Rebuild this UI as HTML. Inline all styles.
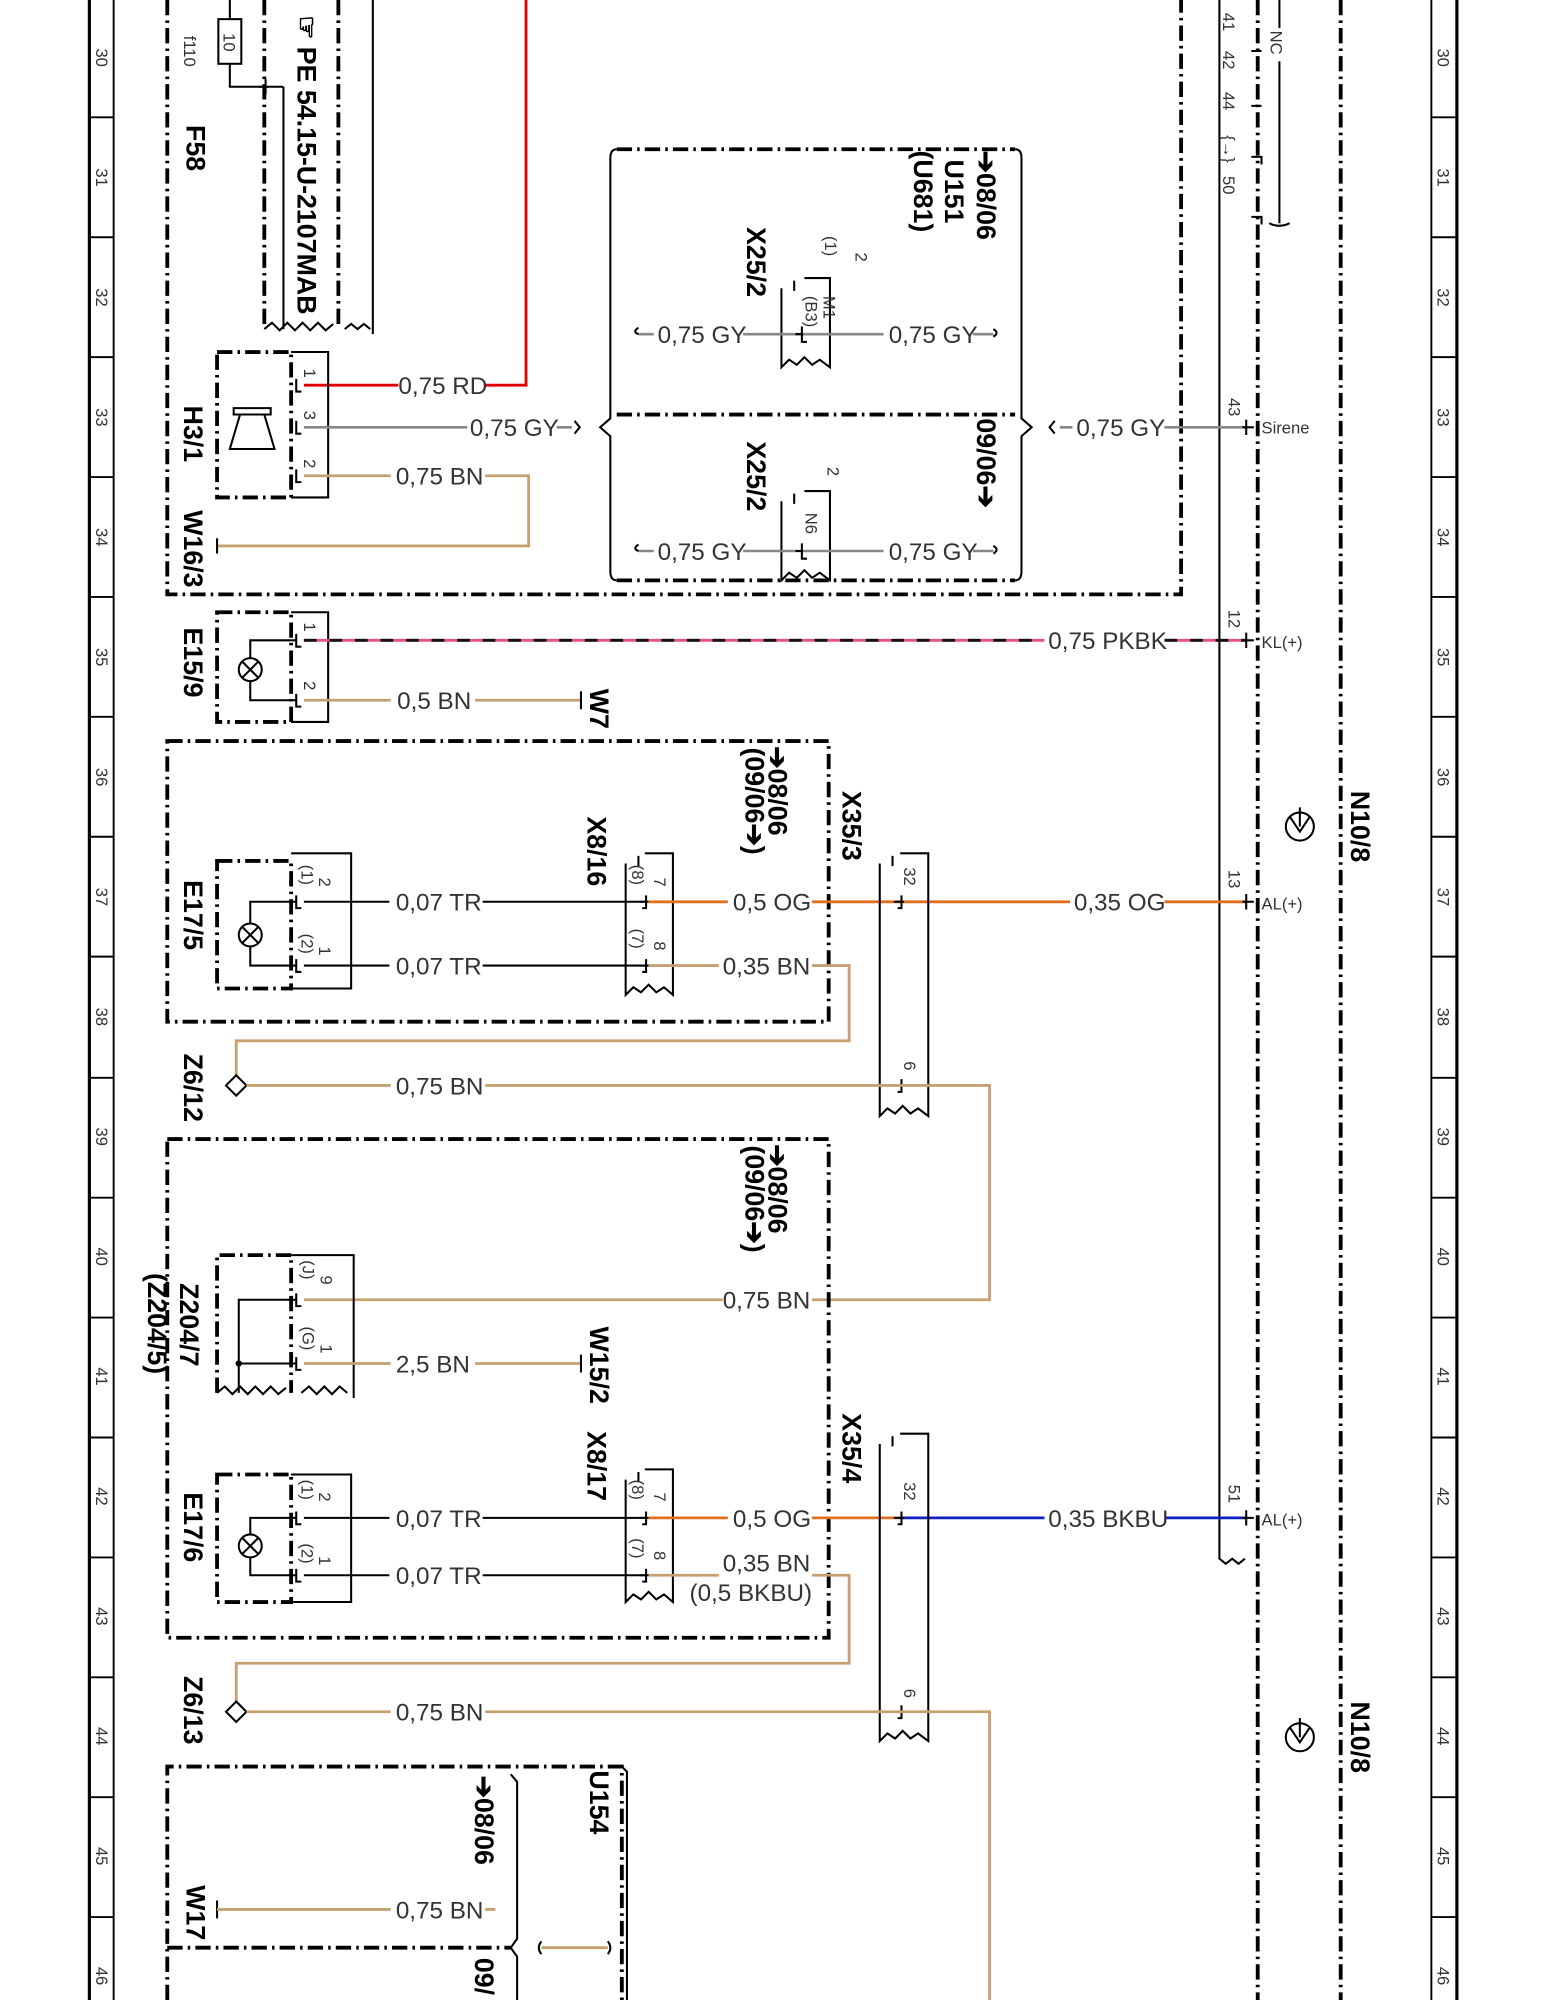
<!DOCTYPE html>
<html><head><meta charset="utf-8"><style>
html,body{margin:0;padding:0;background:#fff}
svg{display:block}
text{font-family:"Liberation Sans",sans-serif}
.w{font-size:19px;fill:#333}
.b{font-size:21px;font-weight:bold;fill:#000}
.s{font-size:13px;fill:#333}
.dd{fill:none;stroke:#000;stroke-width:3;stroke-dasharray:12 4 2 4}
.ln{fill:none;stroke:#000;stroke-width:1.6}
.gy{fill:none;stroke:#888;stroke-width:2}
.bn{fill:none;stroke:#c8a070;stroke-width:2.2}
.og{fill:none;stroke:#e07020;stroke-width:2.2}
.rd{fill:none;stroke:#e00000;stroke-width:2.2}
</style></head><body>
<svg width="1545" height="2000" viewBox="0 0 1210 1568" preserveAspectRatio="none" xmlns="http://www.w3.org/2000/svg">
<rect width="1210" height="1568" fill="#fff"/>
<!-- rulers -->
<g stroke="#000">
<line x1="70" y1="0" x2="70" y2="1568" stroke-width="2.5"/>
<line x1="89" y1="0" x2="89" y2="1568" stroke-width="1.5"/>
<line x1="1121" y1="0" x2="1121" y2="1568" stroke-width="1.5"/>
<line x1="1141" y1="0" x2="1141" y2="1568" stroke-width="2.5"/>
</g>
<g stroke="#000" stroke-width="1.5">
<line x1="70" y1="92" x2="89" y2="92"/><line x1="70" y1="186" x2="89" y2="186"/><line x1="70" y1="280" x2="89" y2="280"/><line x1="70" y1="374" x2="89" y2="374"/><line x1="70" y1="468" x2="89" y2="468"/><line x1="70" y1="562" x2="89" y2="562"/><line x1="70" y1="656" x2="89" y2="656"/><line x1="70" y1="750" x2="89" y2="750"/><line x1="70" y1="845" x2="89" y2="845"/><line x1="70" y1="939" x2="89" y2="939"/><line x1="70" y1="1033" x2="89" y2="1033"/><line x1="70" y1="1127" x2="89" y2="1127"/><line x1="70" y1="1221" x2="89" y2="1221"/><line x1="70" y1="1315" x2="89" y2="1315"/><line x1="70" y1="1409" x2="89" y2="1409"/><line x1="70" y1="1503" x2="89" y2="1503"/>
<line x1="1121" y1="92" x2="1141" y2="92"/><line x1="1121" y1="186" x2="1141" y2="186"/><line x1="1121" y1="280" x2="1141" y2="280"/><line x1="1121" y1="374" x2="1141" y2="374"/><line x1="1121" y1="468" x2="1141" y2="468"/><line x1="1121" y1="562" x2="1141" y2="562"/><line x1="1121" y1="656" x2="1141" y2="656"/><line x1="1121" y1="750" x2="1141" y2="750"/><line x1="1121" y1="845" x2="1141" y2="845"/><line x1="1121" y1="939" x2="1141" y2="939"/><line x1="1121" y1="1033" x2="1141" y2="1033"/><line x1="1121" y1="1127" x2="1141" y2="1127"/><line x1="1121" y1="1221" x2="1141" y2="1221"/><line x1="1121" y1="1315" x2="1141" y2="1315"/><line x1="1121" y1="1409" x2="1141" y2="1409"/><line x1="1121" y1="1503" x2="1141" y2="1503"/>
</g>
<g class="s" font-size="13">
<text transform="translate(75,38) rotate(90)">30</text><text transform="translate(1126,38) rotate(90)">30</text>
<text transform="translate(75,132) rotate(90)">31</text><text transform="translate(1126,132) rotate(90)">31</text>
<text transform="translate(75,226) rotate(90)">32</text><text transform="translate(1126,226) rotate(90)">32</text>
<text transform="translate(75,320) rotate(90)">33</text><text transform="translate(1126,320) rotate(90)">33</text>
<text transform="translate(75,414) rotate(90)">34</text><text transform="translate(1126,414) rotate(90)">34</text>
<text transform="translate(75,508) rotate(90)">35</text><text transform="translate(1126,508) rotate(90)">35</text>
<text transform="translate(75,602) rotate(90)">36</text><text transform="translate(1126,602) rotate(90)">36</text>
<text transform="translate(75,696) rotate(90)">37</text><text transform="translate(1126,696) rotate(90)">37</text>
<text transform="translate(75,790) rotate(90)">38</text><text transform="translate(1126,790) rotate(90)">38</text>
<text transform="translate(75,884) rotate(90)">39</text><text transform="translate(1126,884) rotate(90)">39</text>
<text transform="translate(75,978) rotate(90)">40</text><text transform="translate(1126,978) rotate(90)">40</text>
<text transform="translate(75,1072) rotate(90)">41</text><text transform="translate(1126,1072) rotate(90)">41</text>
<text transform="translate(75,1166) rotate(90)">42</text><text transform="translate(1126,1166) rotate(90)">42</text>
<text transform="translate(75,1260) rotate(90)">43</text><text transform="translate(1126,1260) rotate(90)">43</text>
<text transform="translate(75,1354) rotate(90)">44</text><text transform="translate(1126,1354) rotate(90)">44</text>
<text transform="translate(75,1448) rotate(90)">45</text><text transform="translate(1126,1448) rotate(90)">45</text>
<text transform="translate(75,1542) rotate(90)">46</text><text transform="translate(1126,1542) rotate(90)">46</text>
</g>

<!-- big frames -->
<path class="dd" d="M131 0 V466 H925 V0"/>
<line class="dd" x1="985" y1="0" x2="985" y2="1568"/>
<line class="dd" x1="1050" y1="0" x2="1050" y2="1568"/>
<path class="ln" d="M955 0 V1222 l5 4 5 -4 5 4 5 -4"/>
<path class="ln" d="M1002 0 V22 M1002 48 V175 M994 175 q8 4 16 0"/>
<text class="s" transform="translate(995,24) rotate(90)" font-size="12">NC</text>
<g class="s" font-size="17">
<text transform="translate(958,10) rotate(90)">41</text>
<text transform="translate(958,40) rotate(90)">42</text>
<text transform="translate(958,72) rotate(90)">44</text>
<text transform="translate(958,106) rotate(90)">{→}</text>
<text transform="translate(958,138) rotate(90)">50</text>
</g>
<path class="ln" stroke-width="3" d="M980 40 H988 M980 83 H988 M980 123 H988 V129 M980 170 H988 V176"/>

<!-- F58 -->
<path class="ln" d="M180 0 V15 M180 50 V68 H222"/>
<rect x="171" y="15" width="18" height="35" class="ln"/>
<text class="s" transform="translate(175,26) rotate(90)" font-size="10">10</text>
<text class="s" transform="translate(144,28) rotate(90)" font-size="18" fill="#666">f110</text>
<text class="b" transform="translate(146,98) rotate(90)">F58</text>
<path class="dd" d="M207 0 V258 M265 0 V258"/>
<path class="ln" stroke-width="2.5" d="M207 258 l6 -5 6 6 6 -6 6 6 6 -6 6 6 6 -6 6 6 6 -5 M270 258 l5 -4 5 4 5 -4 5 4"/>
<path class="ln" stroke-width="3" d="M203 68 H210 M208 62 V74"/>
<path class="ln" d="M222 68 V258 M292 0 V262"/>
<text class="b" transform="translate(233,12) rotate(90)">☞ PE  54.15-U-2107MAB</text>
<path class="rd" d="M412 0 V302 H380 M312 302 H238"/>
<text class="w" x="312" y="309">0,75 RD</text>

<!-- H3/1 -->
<rect x="170" y="276" width="58" height="114" class="dd"/>
<path class="ln" d="M228 276 H257 V390 H228"/>
<path class="ln" d="M183 320 H212 V325 H183Z M188 325 L180 352 H215 L207 325"/>
<g class="ln" stroke-width="2.5"><path d="M232 297 v10 h4 M232 330 v10 h4 M232 368 v10 h4"/></g>
<text class="s" transform="translate(238,289) rotate(90)">1</text><text class="s" transform="translate(238,322) rotate(90)">3</text><text class="s" transform="translate(238,360) rotate(90)">2</text>
<text class="b" transform="translate(144,318) rotate(90)">H3/1</text>
<text class="b" transform="translate(144,400) rotate(90)">W16/3</text>
<path class="gy" d="M238 335 H366 M436 335 H448"/>
<text class="w" x="368" y="342">0,75 GY</text>
<path class="ln" d="M450 330 l4 5 -4 5"/>
<path class="bn" d="M238 373 H306 M380 373 H414 V428 H170"/>
<text class="w" x="310" y="380">0,75 BN</text>
<path class="ln" stroke-width="3" d="M170 422 V434"/>

<!-- U151 -->
<path class="ln" d="M483 117 Q478 117 478 124 V328 L470 335 L478 342 V448 Q478 455 483 455"/>
<path class="ln" d="M795 117 Q800 117 800 124 V328 L808 335 L800 342 V448 Q800 455 795 455"/>
<path class="dd" stroke-width="2.5" d="M483 117 H795 M483 455 H795 M483 325 H795"/>
<text class="b" transform="translate(765,118) rotate(90)">➔08/06</text>
<text class="b" transform="translate(740,125) rotate(90)">U151</text>
<text class="b" transform="translate(716,118) rotate(90)">(U681)</text>
<text class="b" transform="translate(765,328) rotate(90)">09/06➔</text>
<!-- X25/2 top -->
<path class="ln" d="M612 226 V288 l6 -6 6 4 6 -6 6 6 6 -4 8 6 V218 H630 M622 220 V228"/>
<text class="b" transform="translate(585,178) rotate(90)">X25/2</text>
<text class="s" transform="translate(646,185) rotate(90)" font-size="16">(1)</text>
<text class="s" transform="translate(670,198) rotate(90)" font-size="16">2</text>
<text class="s" transform="translate(631,232) rotate(90)" font-size="13">(B3)</text>
<text class="s" transform="translate(645,232) rotate(90)" font-size="13">M1</text>
<path class="gy" d="M500 262 H512 M582 262 H628 M628 262 H692 M762 262 H778"/>
<path class="ln" stroke-width="2.5" d="M623 262 H629 M628 256 V268 H632"/>
<text class="w" x="515" y="269">0,75 GY</text><text class="w" x="696" y="269">0,75 GY</text>
<path class="ln" d="M500 257 q-5 3 0 5 M778 258 q5 3 0 6"/>
<!-- X25/2 bottom -->
<path class="ln" d="M612 393 V455 l6 -6 6 4 6 -6 6 6 6 -4 8 6 V385 H630 M622 387 V395"/>
<text class="b" transform="translate(585,346) rotate(90)">X25/2</text>
<text class="s" transform="translate(648,366) rotate(90)" font-size="16">2</text>
<text class="s" transform="translate(631,402) rotate(90)" font-size="13">N6</text>
<path class="gy" d="M500 432 H512 M582 432 H692 M762 432 H778"/>
<path class="ln" stroke-width="2.5" d="M623 432 H629 M628 426 V438 H632"/>
<text class="w" x="515" y="439">0,75 GY</text><text class="w" x="696" y="439">0,75 GY</text>
<path class="ln" d="M500 427 q-5 3 0 5 M778 428 q5 3 0 6"/>
<!-- sirene line -->
<path class="gy" d="M830 335 H840 M912 335 H975"/>
<text class="w" x="843" y="342">0,75 GY</text>
<path class="ln" d="M826 330 l-4 5 4 5"/>
<path class="ln" stroke-width="2.5" d="M973 335 H982 M976 329 v12"/>
<text class="s" transform="translate(962,312) rotate(90)" font-size="14">43</text>
<text class="s" x="988" y="340" font-size="14">Sirene</text>

<!-- E15/9 -->
<rect x="170" y="480" width="58" height="86" class="dd"/>
<path class="ln" d="M228 480 H257 V566 H228"/>
<circle cx="196" cy="525" r="9" class="ln" stroke-width="2"/>
<path class="ln" d="M190 519 l12 12 M202 519 l-12 12 M196 516 V502 H232 M196 534 V549 H232"/>
<g class="ln" stroke-width="2.5"><path d="M232 497 v10 h4 M232 544 v10 h4"/></g>
<text class="s" transform="translate(238,488) rotate(90)">1</text><text class="s" transform="translate(238,534) rotate(90)">2</text>
<text class="b" transform="translate(144,492) rotate(90)">E15/9</text>
<path d="M238 502 H818 M912 502 H975" stroke="#e8508a" stroke-width="2.2"/>
<path d="M238 502 H818 M912 502 H975" stroke="#111" stroke-width="2.2" stroke-dasharray="10 10"/>
<text class="w" x="821" y="509">0,75 PKBK</text>
<path class="ln" stroke-width="2.5" d="M973 502 H982 M976 496 v12"/>
<text class="s" transform="translate(962,478) rotate(90)" font-size="14">12</text>
<text class="s" x="988" y="508" font-size="14">KL(+)</text>
<path class="bn" d="M238 549 H306 M372 549 H455"/>
<text class="w" x="311" y="556">0,5 BN</text>
<path class="ln" stroke-width="3" d="M455 542 V556"/>
<text class="b" transform="translate(462,540) rotate(90)">W7</text>

<!-- box 2 -->
<rect x="131" y="581" width="518" height="220" class="dd"/>
<rect x="170" y="675" width="58" height="100" class="dd"/>
<path class="ln" d="M228 669 H275 V775 H228"/>
<circle cx="196" cy="733" r="9" class="ln" stroke-width="2"/>
<path class="ln" d="M190 727 l12 12 M202 727 l-12 12 M196 724 V707 H232 M196 742 V757 H232"/>
<g class="ln" stroke-width="2.5"><path d="M232 702 v10 h4 M232 752 v10 h4"/></g>
<text class="s" transform="translate(236,678) rotate(90)">(1)</text><text class="s" transform="translate(250,688) rotate(90)">2</text>
<text class="s" transform="translate(236,732) rotate(90)">(2)</text><text class="s" transform="translate(250,742) rotate(90)">1</text>
<text class="b" transform="translate(144,690) rotate(90)">E17/5</text>
<path class="ln" d="M238 707 H305 M378 707 H505 M238 757 H305 M378 757 H505"/>
<text class="w" x="310" y="714">0,07 TR</text><text class="w" x="310" y="764">0,07 TR</text>
<path class="ln" d="M490 677 V780 l6 -6 6 4 6 -6 6 6 6 -4 7 6 V669 H505 M500 671 V679"/>
<g class="ln" stroke-width="2.5"><path d="M501 707 H508 M506 702 v10 h-3 M501 757 H508 M506 752 v10 h-3"/></g>
<text class="b" transform="translate(460,640) rotate(90)">X8/16</text>
<text class="s" transform="translate(495,678) rotate(90)">(8)</text><text class="s" transform="translate(512,688) rotate(90)">7</text>
<text class="s" transform="translate(495,728) rotate(90)">(7)</text><text class="s" transform="translate(512,738) rotate(90)">8</text>
<path class="og" d="M508 707 H570 M636 707 H705 M705 707 H838 M912 707 H975"/>
<text class="w" x="574" y="714">0,5 OG</text><text class="w" x="841" y="714">0,35 OG</text>
<path class="bn" d="M508 757 H563 M636 757 H665 V816 H185 V843"/>
<text class="w" x="566" y="764">0,35 BN</text>
<text class="b" transform="translate(602,585) rotate(90)">➔08/06</text>
<text class="b" transform="translate(584,586) rotate(90)">(09/06➔)</text>
<text class="b" transform="translate(660,620) rotate(90)">X35/3</text>
<!-- X35/3 -->
<path class="ln" d="M689 677 V875 l6 -6 6 4 6 -6 6 6 6 -4 8 6 V669 H705 M699 671 V679"/>
<g class="ln" stroke-width="2.5"><path d="M700 707 H708 M706 702 v10 h-3 M700 851 H708 M706 846 v10 h-3"/></g>
<text class="s" transform="translate(708,680) rotate(90)">32</text><text class="s" transform="translate(708,832) rotate(90)">6</text>
<path class="ln" stroke-width="2.5" d="M973 707 H982 M976 701 v12"/>
<text class="s" transform="translate(962,682) rotate(90)" font-size="14">13</text>
<text class="s" x="988" y="713" font-size="14">AL(+)</text>
<!-- Z6/12 -->
<path class="ln" stroke-width="2" d="M185 843 L193 851 L185 859 L177 851Z"/>
<text class="b" transform="translate(144,826) rotate(90)">Z6/12</text>
<path class="bn" d="M193 851 H306 M380 851 H775 V1019 H636 M566 1019 H238"/>
<text class="w" x="310" y="858">0,75 BN</text>
<text class="w" x="566" y="1026">0,75 BN</text>

<!-- N10/8 symbols -->
<g class="ln" stroke-width="2.5"><circle cx="1018" cy="648" r="11"/><path d="M1010 640 l8 12 8 -12 M1018 648 V633"/>
<circle cx="1018" cy="1362" r="11"/><path d="M1010 1354 l8 12 8 -12 M1018 1362 V1347"/></g>
<text class="b" transform="translate(1058,620) rotate(90)">N10/8</text>
<text class="b" transform="translate(1058,1334) rotate(90)">N10/8</text>

<!-- box 3 -->
<rect x="131" y="893" width="518" height="391" class="dd"/>
<text class="b" transform="translate(602,897) rotate(90)">➔08/06</text>
<text class="b" transform="translate(584,898) rotate(90)">(09/06➔)</text>
<path class="dd" d="M170 1092 V984 H228 V1092"/>
<path class="ln" stroke-width="2.5" d="M170 1092 l6 -5 6 6 6 -6 6 6 6 -6 6 6 6 -6 6 6 6 -5 M236 1092 l6 -5 6 6 6 -6 6 6 6 -6 6 5"/>
<path class="ln" d="M228 984 H277 V1096"/>
<path class="ln" d="M232 1019 H187 V1092 M187 1069 H232"/><circle cx="187" cy="1069" r="2.5"/>
<g class="ln" stroke-width="2.5"><path d="M232 1014 v10 h4 M232 1064 v10 h4"/></g>
<text class="s" transform="translate(237,988) rotate(90)">(J)</text><text class="s" transform="translate(251,1000) rotate(90)">9</text>
<text class="s" transform="translate(237,1040) rotate(90)">(G)</text><text class="s" transform="translate(251,1054) rotate(90)">1</text>
<text class="b" transform="translate(141,1006) rotate(90)">Z204/7</text>
<text class="b" transform="translate(116,998) rotate(90)">(Z204/5)</text>
<path class="bn" d="M238 1069 H306 M372 1069 H455"/>
<text class="w" x="310" y="1076">2,5 BN</text>
<path class="ln" stroke-width="3" d="M455 1062 V1076"/>
<text class="b" transform="translate(462,1040) rotate(90)">W15/2</text>
<!-- E17/6 -->
<rect x="170" y="1156" width="58" height="100" class="dd"/>
<path class="ln" d="M228 1156 H275 V1256 H228"/>
<circle cx="196" cy="1212" r="9" class="ln" stroke-width="2"/>
<path class="ln" d="M190 1206 l12 12 M202 1206 l-12 12 M196 1203 V1190 H232 M196 1221 V1235 H232"/>
<g class="ln" stroke-width="2.5"><path d="M232 1185 v10 h4 M232 1230 v10 h4"/></g>
<text class="s" transform="translate(236,1160) rotate(90)">(1)</text><text class="s" transform="translate(250,1170) rotate(90)">2</text>
<text class="s" transform="translate(236,1210) rotate(90)">(2)</text><text class="s" transform="translate(250,1220) rotate(90)">1</text>
<text class="b" transform="translate(144,1170) rotate(90)">E17/6</text>
<path class="ln" d="M238 1190 H305 M378 1190 H505 M238 1235 H305 M378 1235 H505"/>
<text class="w" x="310" y="1197">0,07 TR</text><text class="w" x="310" y="1242">0,07 TR</text>
<path class="ln" d="M490 1160 V1256 l6 -6 6 4 6 -6 6 6 6 -4 7 6 V1152 H505 M500 1154 V1162"/>
<g class="ln" stroke-width="2.5"><path d="M501 1190 H508 M506 1185 v10 h-3 M501 1235 H508 M506 1230 v10 h-3"/></g>
<text class="b" transform="translate(460,1122) rotate(90)">X8/17</text>
<text class="s" transform="translate(495,1160) rotate(90)">(8)</text><text class="s" transform="translate(512,1170) rotate(90)">7</text>
<text class="s" transform="translate(495,1206) rotate(90)">(7)</text><text class="s" transform="translate(512,1216) rotate(90)">8</text>
<path class="og" d="M508 1190 H570 M636 1190 H705"/>
<text class="w" x="574" y="1197">0,5 OG</text>
<path d="M705 1190 H818 M912 1190 H975" stroke="#1020c0" stroke-width="2.2" fill="none"/>
<text class="w" x="821" y="1197">0,35 BKBU</text>
<path class="ln" stroke-width="2.5" d="M973 1190 H982 M976 1184 v12"/>
<text class="s" transform="translate(962,1164) rotate(90)" font-size="14">51</text>
<text class="s" x="988" y="1196" font-size="14">AL(+)</text>
<path class="bn" d="M508 1235 H563 M636 1235 H665 V1304 H185 V1334"/>
<text class="w" x="566" y="1232">0,35 BN</text>
<text class="w" x="540" y="1255">(0,5 BKBU)</text>
<text class="b" transform="translate(660,1108) rotate(90)">X35/4</text>
<path class="ln" d="M689 1132 V1365 l6 -6 6 4 6 -6 6 6 6 -4 8 6 V1124 H705 M699 1126 V1134"/>
<g class="ln" stroke-width="2.5"><path d="M700 1190 H708 M706 1185 v10 h-3 M700 1342 H708 M706 1337 v10 h-3"/></g>
<text class="s" transform="translate(708,1162) rotate(90)">32</text><text class="s" transform="translate(708,1324) rotate(90)">6</text>
<!-- Z6/13 -->
<path class="ln" stroke-width="2" d="M185 1334 L193 1342 L185 1350 L177 1342Z"/>
<text class="b" transform="translate(144,1314) rotate(90)">Z6/13</text>
<path class="bn" d="M193 1342 H306 M380 1342 H775 V1568"/>
<text class="w" x="310" y="1349">0,75 BN</text>

<!-- U154 -->
<path class="dd" d="M131 1568 V1385 H487 V1568"/>
<path class="ln" d="M487 1385 l4 4 V1568"/>
<text class="b" transform="translate(462,1388) rotate(90)">U154</text>
<path class="ln" d="M400 1391 l5 6 V1520 l-5 7 5 7 V1568"/>
<text class="b" transform="translate(372,1392) rotate(90)">➔08/06</text>
<text class="b" transform="translate(372,1535) rotate(90)">09/</text>
<path class="dd" stroke-width="2.5" d="M131 1527 H400"/>
<path class="ln" stroke-width="3" d="M170 1490 V1504"/>
<text class="b" transform="translate(146,1478) rotate(90)">W17</text>
<path class="bn" d="M170 1497 H306 M380 1497 H388"/>
<text class="w" x="310" y="1504">0,75 BN</text>
<path class="bn" d="M424 1527 H476"/>
<path class="ln" d="M424 1522 q-4 5 0 10 M476 1522 q4 5 0 10"/>
</svg>
</body></html>
